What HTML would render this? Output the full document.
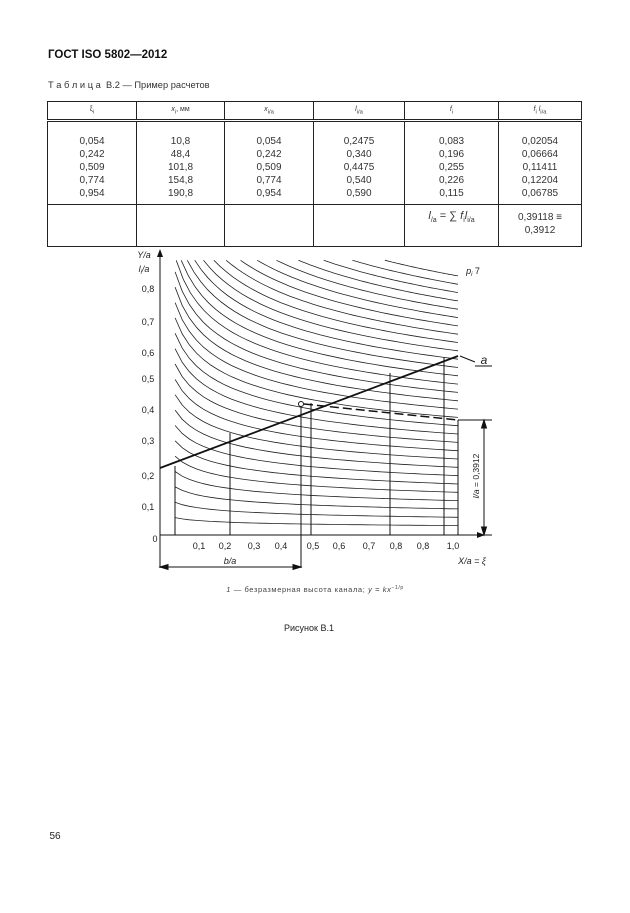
<!DOCTYPE html>
<html><head><meta charset="utf-8"><style>
body{margin:0;background:#fff;}
#p{position:relative;width:630px;height:913px;overflow:hidden;font-family:"Liberation Sans",sans-serif;color:#222;}
.t{position:absolute;white-space:nowrap;}
table{position:absolute;left:47px;top:101px;width:535px;border-collapse:collapse;font-size:10px;color:#333;}
td{border:1px solid #222;text-align:center;vertical-align:top;padding:0;}
</style></head><body><div id="p">
<div class="t" style="left:48px;top:49px;font-size:11.5px;font-weight:bold;color:#111">ГОСТ ISO 5802—2012</div>
<div class="t" style="left:48px;top:80px;font-size:9.3px;color:#333">Т а б л и ц а&nbsp; В.2 — Пример расчетов</div>
<table>
<tr style="height:19px;border-bottom:3px double #222"><td style="width:88px;font-size:7px;vertical-align:middle">ξ<sub>i</sub></td><td style="width:87px;font-size:7px;vertical-align:middle"><i>x</i><sub>i</sub>, мм</td><td style="width:88px;font-size:7px;vertical-align:middle"><i>x</i><sub>i/a</sub></td><td style="width:90px;font-size:7px;vertical-align:middle"><i>l</i><sub>i/a</sub></td><td style="width:93px;font-size:7px;vertical-align:middle"><i>f</i><sub>i</sub></td><td style="font-size:7px;vertical-align:middle"><i>f</i><sub>i</sub> <i>l</i><sub>i/a</sub></td></tr>
<tr style="height:84px;line-height:13px"><td style="padding-top:13px">0,054<br>0,242<br>0,509<br>0,774<br>0,954</td><td style="padding-top:13px">10,8<br>48,4<br>101,8<br>154,8<br>190,8</td><td style="padding-top:13px">0,054<br>0,242<br>0,509<br>0,774<br>0,954</td><td style="padding-top:13px">0,2475<br>0,340<br>0,4475<br>0,540<br>0,590</td><td style="padding-top:13px">0,083<br>0,196<br>0,255<br>0,226<br>0,115</td><td style="padding-top:13px">0,02054<br>0,06664<br>0,11411<br>0,12204<br>0,06785</td></tr>
<tr style="height:42px;line-height:13px"><td></td><td></td><td></td><td></td><td style="padding-top:5px;font-size:11px"><i>l</i><sub style="font-size:7px">/a</sub> = ∑ <i>f</i><sub style="font-size:7px">i</sub><i>l</i><sub style="font-size:7px">i/a</sub></td><td style="padding-top:6px">0,39118 ≡<br>0,3912</td></tr>
</table>
<svg id="s" width="630" height="913" style="position:absolute;left:0;top:0" font-family="Liberation Sans, sans-serif">
<defs><marker id="ar" markerWidth="8" markerHeight="6" refX="7" refY="3" orient="auto" markerUnits="userSpaceOnUse"><path d="M0,0L8,3L0,6z" fill="#111"/></marker></defs>
<g id="cv" stroke="#222" stroke-width="0.8" fill="none"></g>
<g stroke="#111" stroke-width="1" fill="none">
<line x1="160" y1="568" x2="160" y2="250" marker-end="url(#ar)"/>
<line x1="160" y1="535" x2="484" y2="535" marker-end="url(#ar)"/>
<line x1="175" y1="535" x2="175" y2="466"/>
<line x1="230" y1="535" x2="230" y2="433"/>
<line x1="301" y1="568" x2="301" y2="404"/>
<line x1="311" y1="535" x2="311" y2="403"/>
<line x1="390" y1="535" x2="390" y2="373"/>
<line x1="444" y1="535" x2="444" y2="357"/>
<line x1="458" y1="535" x2="458" y2="420"/>
<line x1="160" y1="468" x2="458" y2="356" stroke-width="1.8"/>
<line x1="304" y1="404" x2="458" y2="420" stroke-width="1.5" stroke-dasharray="9,4"/>
<line x1="458" y1="420" x2="492" y2="420"/>
<line x1="462" y1="535" x2="492" y2="535"/>
<line x1="484" y1="428" x2="484" y2="527"/>
<path d="M484,420l-2.5,8h5z M484,535l-2.5,-8h5z" fill="#111"/>
<line x1="160" y1="567" x2="301" y2="567"/>
<path d="M160,567l8,-2.5v5z M301,567l-8,-2.5v5z" fill="#111"/>
<line x1="475" y1="362" x2="460" y2="356"/>
<line x1="475" y1="366" x2="492" y2="366"/>
<circle cx="301" cy="404" r="2.5" fill="#fff"/>
</g>
<g font-size="9" fill="#222" text-anchor="middle">
<text x="144" y="258" font-style="italic">Y/a</text>
<text x="144" y="272" font-style="italic">l<tspan font-size="6" dy="2">i</tspan><tspan dy="-2">/a</tspan></text>
<text x="148" y="292">0,8</text><text x="148" y="325">0,7</text><text x="148" y="356">0,6</text><text x="148" y="382">0,5</text><text x="148" y="413">0,4</text><text x="148" y="444">0,3</text><text x="148" y="479">0,2</text><text x="148" y="510">0,1</text><text x="155" y="542">0</text>
<text x="199" y="549">0,1</text><text x="225" y="549">0,2</text><text x="254" y="549">0,3</text><text x="281" y="549">0,4</text><text x="313" y="549">0,5</text><text x="339" y="549">0,6</text><text x="369" y="549">0,7</text><text x="396" y="549">0,8</text><text x="423" y="549">0,8</text><text x="453" y="549">1,0</text>
<text x="472" y="564" font-style="italic">X/a = ξ</text>
<text x="230" y="564" font-style="italic">b/a</text>
<text x="473" y="274" font-style="italic">p<tspan font-size="6" dy="2">i</tspan><tspan dy="-2" font-style="normal"> 7</tspan></text>
<text x="484" y="364" font-size="12" font-style="italic">a</text>
<text transform="translate(479,476) rotate(-90)" font-size="8.5"><tspan font-style="italic">l/a</tspan> = 0,3912</text>
<text x="315" y="592" font-size="7.5" letter-spacing="0.6" fill="#444"><tspan font-style="italic">1</tspan> — безразмерная высота канала; <tspan font-style="italic">y</tspan> = <tspan font-style="italic">kx</tspan><tspan font-size="5" dy="-3">−1/p</tspan></text>
<text x="309" y="631" font-size="9">Рисунок В.1</text>
<text x="55" y="839" font-size="10">56</text>
</g>
</svg>
<script>
var g=document.getElementById('cv'),m=0.21,out='';
function X(x){return 159+299*x;}function Y(y){return 535-314*y;}
for(var i=0;i<31;i++){var k=0.03+i*0.0265;var x0=Math.max(0.054,Math.pow(k/0.875,1/m));if(x0>=0.97)continue;
var d='';for(var j=0;j<=40;j++){var x=x0+(1-x0)*j/40;var y=k*Math.pow(x,-m);d+=(j?'L':'M')+X(x).toFixed(1)+','+Y(y).toFixed(1);}
out+='<path d="'+d+'"/>';}
g.innerHTML=out;
</script>
</div></body></html>
